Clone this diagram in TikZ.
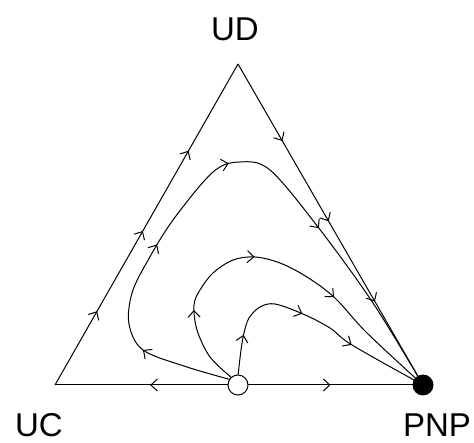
\documentclass[tikz,border=0pt]{standalone}
\usepackage{fontspec}
\setmainfont{Liberation Sans}
\usetikzlibrary{arrows.meta,decorations.markings}
\tikzset{
  mytip/.tip={Straight Barb[length=6.5pt,width=12pt]},
  tipat/.style={postaction={decorate,decoration={markings,mark=at position #1 with {\arrow{mytip}}}}},
  flow/.style={draw=black,line width=1pt,line join=round},
  vlabel/.style={font=\fontsize{33}{40}\selectfont, anchor=base, inner sep=0pt},
  restopen/.style={circle,draw=black,line width=1pt,fill=white,minimum size=20pt,inner sep=0pt},
  restfull/.style={circle,fill=black,minimum size=21pt,inner sep=0pt},
}
\begin{document}
\begin{tikzpicture}[x=1pt,y=-1pt]
\useasboundingbox (0,0) rectangle (474,443);
\coordinate (UCv) at (55,385);
\coordinate (UDv) at (238,64);
\coordinate (PNPv) at (423,385);
\coordinate (restc) at (238,385);

% triangle edges
\draw[flow,tipat=0.23,tipat=0.48,tipat=0.73] (UCv) -- (UDv);
\draw[flow,tipat=0.24,tipat=0.49,tipat=0.74] (UDv) -- (PNPv);
\draw[flow,tipat=0.48] (restc) -- (UCv);
\draw[flow,tipat=0.50] (restc) -- (PNPv);

% outer trajectory
\draw[flow,tipat=0.15,tipat=0.335,tipat=0.51,tipat=0.70]
  plot[smooth,tension=0.55] coordinates {(232,380) (187,367) (143,350) (129,324) (132,293) (147,262) (173,220) (213,172) (240,162) (270,170) (318,227) (373,303) (PNPv)};

% middle trajectory
\draw[flow,tipat=0.21,tipat=0.44,tipat=0.675]
  plot[smooth,tension=0.55] coordinates {(232,378) (210,357) (197,330) (194,305) (200,290) (213,273) (233,260) (255,257) (280,263) (307,277) (335,298) (367,333) (PNPv)};

% inner trajectory
\draw[flow,tipat=0.16,tipat=0.46,tipat=0.685]
  plot[smooth,tension=0.55] coordinates {(238,376) (241,350) (244,333) (249,318) (260,307) (275,304) (303,314) (330,328) (352,345) (PNPv)};

% rest points
\node[restopen] (rest) at (restc) {};
\node[restfull] (pnp) at (PNPv) {};

% labels
\node[vlabel] (ud) at (235,41) {UD};
\node[vlabel] (uc) at (39,436) {UC};
\node[vlabel] (pnplab) at (437,437) {PNP};
\end{tikzpicture}
\end{document}
